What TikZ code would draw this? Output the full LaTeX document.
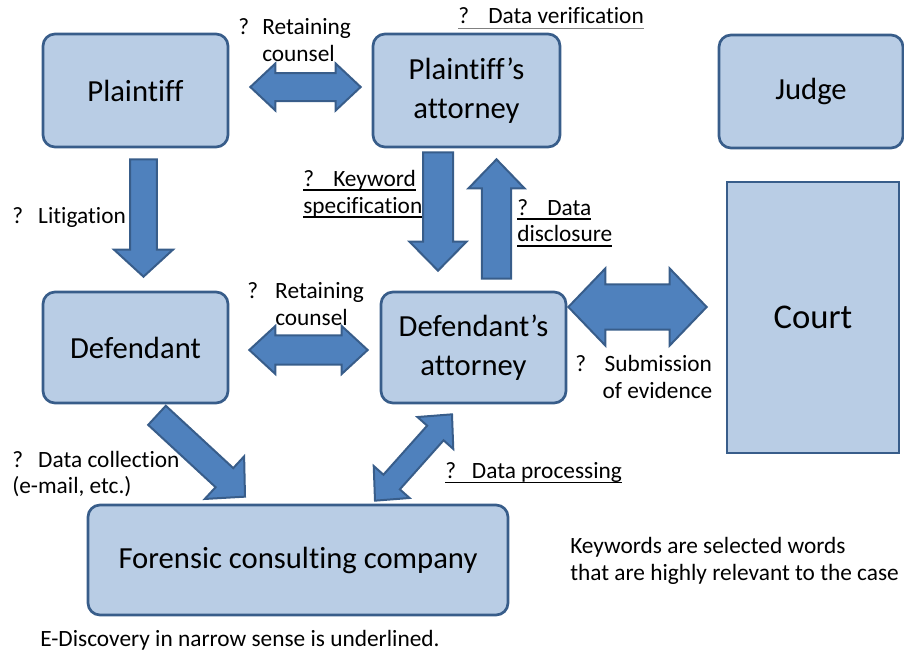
\documentclass[tikz,border=0pt]{standalone}
\usepackage{fontspec}
\setmainfont{Carlito}[Ligatures={TeX,NoCommon}]
\usepackage{tikz}
\usetikzlibrary{calc, positioning}

\definecolor{boxfill}{HTML}{B9CDE5}
\definecolor{boxline}{HTML}{385D8A}
\definecolor{arrowfill}{HTML}{4F81BD}

\newcommand{\qm}[1][21pt]{\makebox[#1][l]{?}}
\newcommand{\uln}[1]{\setbox0\hbox{#1}\rlap{\rule[-3.5pt]{\wd0}{1.3pt}}\box0}
\newcommand{\grayln}[1]{\setbox0\hbox{#1}\rlap{\textcolor{gray}{\rule[-4pt]{\wd0}{0.5pt}}}\box0}

% block arrows: from, to, half shaft, half head, head length
\newcommand{\blockarrow}[5]{
  \coordinate (ba) at (#1);
  \coordinate (bb) at (#2);
  \coordinate (hb) at ($(bb)!#5!(ba)$);
  \draw[barrow] ($(ba)!#3!90:(bb)$) -- ($(hb)!#3!90:(bb)$) -- ($(hb)!#4!90:(bb)$)
    -- (bb) -- ($(hb)!#4!-90:(bb)$) -- ($(hb)!#3!-90:(bb)$) -- ($(ba)!#3!-90:(bb)$) -- cycle;
}
\newcommand{\dblockarrow}[5]{
  \coordinate (ba) at (#1);
  \coordinate (bb) at (#2);
  \coordinate (ha) at ($(ba)!#5!(bb)$);
  \coordinate (hb) at ($(bb)!#5!(ba)$);
  \draw[barrow] (ba) -- ($(ha)!#4!90:(bb)$) -- ($(ha)!#3!90:(bb)$) -- ($(hb)!#3!90:(bb)$)
    -- ($(hb)!#4!90:(bb)$) -- (bb) -- ($(hb)!#4!-90:(bb)$) -- ($(hb)!#3!-90:(bb)$)
    -- ($(ha)!#3!-90:(bb)$) -- ($(ha)!#4!-90:(bb)$) -- cycle;
}

\begin{document}
\begin{tikzpicture}[x=0.75pt, y=-0.75pt,
  box/.style = {draw=boxline, fill=boxfill, line width=2pt, rounded corners=9pt,
    align=center, inner sep=0pt, font=\fontsize{23}{29}\selectfont},
  lbl/.style = {anchor=west, align=left, inner sep=0pt, font=\fontsize{17.5}{20}\selectfont},
  barrow/.style = {draw=boxline, fill=arrowfill, line width=1.5pt, line join=miter}]
  \useasboundingbox (0,0) rectangle (904,653);

  \node[box, minimum width=138.75pt, minimum height=84.75pt] (plaintiff) at (135.5,90.5) {Plaintiff};
  \node[box, minimum width=140.25pt, minimum height=84.75pt] (pattorney) at (466.5,90.5) {Plaintiff's\\attorney};
  \node[box, minimum width=138pt, minimum height=84.75pt] (judge) at (811,91.5) {Judge};
  \node[box, sharp corners, minimum width=129pt, minimum height=203.25pt,
    font=\fontsize{26}{30}\selectfont] (court) at (813,317.5) {Court};
  \node[box, minimum width=138.75pt, minimum height=83.25pt] (defendant) at (135.5,347.5) {Defendant};
  \node[box, minimum width=138.75pt, minimum height=83.25pt] (dattorney) at (473.5,347.5) {Defendant's\\attorney};
  \node[box, minimum width=315pt, minimum height=82.5pt] (forensic) at (298,560) {Forensic consulting company};

  \dblockarrow{$(plaintiff.east)+(21,-3.5)$}{$(pattorney.west)+(-11,-3.5)$}{10.5pt}{17.6pt}{18.75pt}
  \blockarrow{$(plaintiff.south)+(8,11)$}{$(defendant.north)+(8,-14)$}{10.1pt}{22.1pt}{20.25pt}
  \blockarrow{$(pattorney.south)+(-28.5,4)$}{$(dattorney.north)+(-35.5,-20)$}{11.25pt}{21.4pt}{21.75pt}
  \blockarrow{$(dattorney.north)+(23,-12)$}{$(pattorney.south)+(30,11)$}{10.9pt}{21pt}{21.75pt}
  \dblockarrow{$(defendant.east)+(20,2.5)$}{$(dattorney.west)+(-12,2.5)$}{10.9pt}{18pt}{19.5pt}
  \dblockarrow{$(dattorney.east)+(1,-40.5)$}{$(court.west)+(-19,-10.5)$}{16.9pt}{28.9pt}{27.75pt}
  \blockarrow{$(defendant.south)+(21.5,11)$}{$(forensic.north)+(-53,-7)$}{9.75pt}{21.75pt}{21pt}
  \dblockarrow{$(forensic.north)+(77,-3)$}{$(dattorney.south)+(-21.5,10)$}{8.25pt}{18pt}{18.75pt}

  \node[lbl] (retain1) at (238,40) {\qm[18pt]Retaining\\\hspace*{18pt}counsel};
  \node[lbl] (verify) at (458,18) {\grayln{\qm[22.5pt]Data verification}};
  \node[lbl] (keyword) at (303,194) {\uln{\qm[22.5pt]Keyword}\\\uln{specification}};
  \node[lbl] (disclose) at (517,223) {\uln{\qm[22.5pt]Data}\\\uln{disclosure}};
  \node[lbl] (litig) at (12,217) {\qm[19.5pt]Litigation};
  \node[lbl] (retain2) at (247,304) {\qm Retaining\\\hspace*{21pt}counsel};
  \node[lbl] (submit) at (575,377) {\qm[22pt]Submission\\\hspace*{20.5pt}of evidence};
  \node[lbl] (process) at (445,473) {\uln{\qm[20pt]Data processing}};
  \node[lbl] (collect) at (12,474) {\qm[19.5pt]Data collection\\(e-mail, etc.)};
  \node[lbl] (kwnote) at (570,561) {Keywords are selected words\\that are highly relevant to the case};
  \node[lbl] (note) at (40,640) {E-Discovery in narrow sense is underlined.};
\end{tikzpicture}
\end{document}
